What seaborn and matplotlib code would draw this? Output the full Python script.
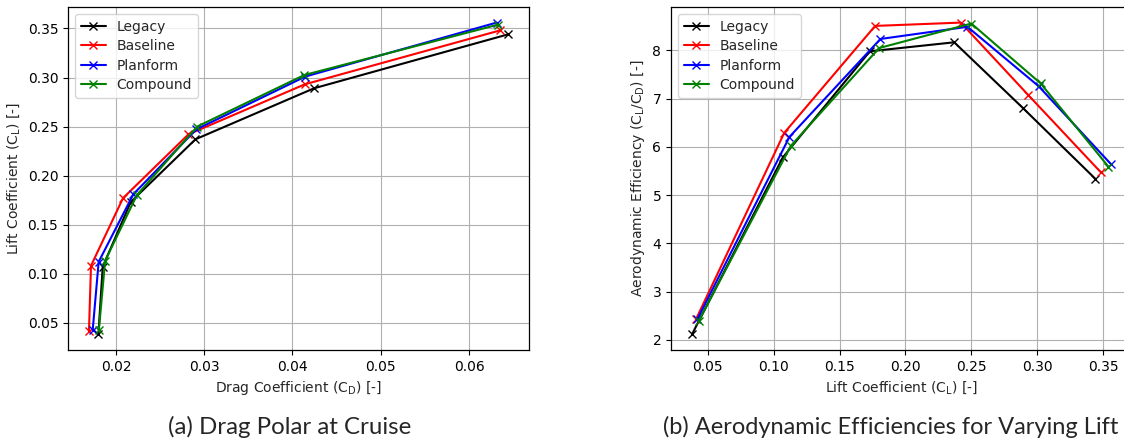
import numpy as np
import pandas as pd
import matplotlib
matplotlib.use("Agg")
import matplotlib.pyplot as plt
import seaborn as sns

# Wing configurations and their plotting colours
configs = ["Legacy", "Baseline", "Planform", "Compound"]
colors = ["black", "red", "blue", "green"]

# Cruise lift coefficients per configuration
cl_legacy = [0.038, 0.107, 0.173, 0.237, 0.289, 0.344]
cl_baseline = [0.041, 0.108, 0.177, 0.242, 0.293, 0.348]
cl_planform = [0.042, 0.112, 0.181, 0.247, 0.301, 0.356]
cl_compound = [0.043, 0.113, 0.180, 0.250, 0.3025, 0.354]

# Cruise drag coefficients per configuration
cd_legacy = [0.01801, 0.01850, 0.02167, 0.02901, 0.04244, 0.06442]
cd_baseline = [0.01694, 0.01717, 0.02080, 0.02821, 0.04138, 0.06350]
cd_planform = [0.01736, 0.01804, 0.02197, 0.02909, 0.04146, 0.06312]
cd_compound = [0.01807, 0.01877, 0.02236, 0.02921, 0.04133, 0.06333]

cl_sets = [cl_legacy, cl_baseline, cl_planform, cl_compound]
cd_sets = [cd_legacy, cd_baseline, cd_planform, cd_compound]

frames = []
for name, cl, cd in zip(configs, cl_sets, cd_sets):
    cl = np.asarray(cl)
    cd = np.asarray(cd)
    frames.append(pd.DataFrame({"config": name, "CL": cl, "CD": cd, "LD": cl / cd}))
df = pd.concat(frames, ignore_index=True)

sns.set_style("ticks")
plt.rcParams.update({
    "font.family": ["DejaVu Sans"],
    "font.size": 10,
    "axes.labelsize": 10,
    "xtick.labelsize": 10,
    "ytick.labelsize": 10,
    "legend.fontsize": 10,
    "axes.edgecolor": "black",
    "axes.linewidth": 0.9,
    "xtick.color": "black",
    "ytick.color": "black",
    "xtick.major.size": 3.5,
    "ytick.major.size": 3.5,
    "grid.color": "#b0b0b0",
    "grid.linewidth": 0.8,
    "mathtext.default": "regular",
})

W, H = 1124, 443
fig = plt.figure(figsize=(W / 100, H / 100), dpi=100)
ax1 = fig.add_axes([68 / W, 93 / H, 461 / W, 343 / H])
ax2 = fig.add_axes([671 / W, 93 / H, 461 / W, 343 / H])


def draw(ax, x, y):
    for name, col in zip(configs, colors):
        sub = df[df["config"] == name]
        sns.lineplot(data=sub, x=x, y=y, ax=ax, color=col, label=name,
                     sort=False, estimator=None, marker="x", markersize=6,
                     markeredgecolor=col, markeredgewidth=1.0, linewidth=1.5)
    ax.grid(True)
    ax.set_axisbelow(True)
    ax.legend(loc="upper left", frameon=True, fancybox=True,
              edgecolor="#cccccc", framealpha=0.8, labelspacing=0.4,
              handlelength=1.8)


draw(ax1, "CD", "CL")
ax1.set_xlabel(r"Drag Coefficient (C$_\mathrm{D}$) [-]")
ax1.set_ylabel(r"Lift Coefficient (C$_\mathrm{L}$) [-]")

draw(ax2, "CL", "LD")
ax2.set_xlabel(r"Lift Coefficient (C$_\mathrm{L}$) [-]")
ax2.set_ylabel(r"Aerodynamic Efficiency (C$_\mathrm{L}$/C$_\mathrm{D}$) [-]")

fig.text(290 / W, 16 / H, "(a) Drag Polar at Cruise", ha="center", va="center",
         fontsize=17.3, family="Lato")
fig.text(891 / W, 16 / H, "(b) Aerodynamic Efficiencies for Varying Lift",
         ha="center", va="center", fontsize=17.0, family="Lato")

fig.savefig("out.png", dpi=100)
